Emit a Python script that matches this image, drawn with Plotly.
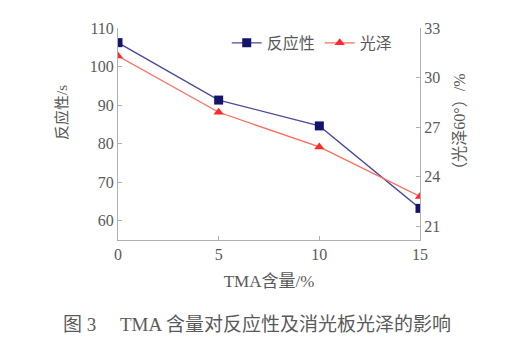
import plotly.graph_objects as go

tma = [0, 5, 10, 15]
reactivity = [106.2, 91.3, 84.6, 63.2]
gloss = [31.3, 27.9, 25.8, 22.8]
left_ticks = [60, 70, 80, 90, 100, 110]
right_ticks = [21, 24, 27, 30, 33]
x_ticks = [0, 5, 10, 15]

serif = "Liberation Serif, DejaVu Serif, serif"
cjk = "Liberation Serif, Noto Sans CJK SC, serif"
txt = "#5a5a5a"
axc = "#b0b0b0"

fig = go.Figure()
fig.add_trace(go.Scatter(
    x=tma, y=reactivity, name="反应性", mode="lines+markers",
    line=dict(color="#4a4a9c", width=1.3),
    marker=dict(symbol="square", size=9, color="#14146b"),
))
fig.add_trace(go.Scatter(
    x=tma, y=gloss, name="光泽", mode="lines+markers", yaxis="y2",
    line=dict(color="#ff6a5a", width=1.3),
    marker=dict(symbol="triangle-up", size=9, color="#ff2a2a"),
))

fig.update_layout(
    width=520, height=355,
    margin=dict(l=110, r=108, t=15, b=123),
    paper_bgcolor="white", plot_bgcolor="white",
    showlegend=True,
    legend=dict(x=0.36, y=1.01, xanchor="left", yanchor="top", orientation="h",
                font=dict(family=cjk, size=16, color=txt), bgcolor="rgba(0,0,0,0)",
                itemwidth=30),
    xaxis=dict(range=[0, 15], tickvals=x_ticks, showline=True, linecolor=axc,
               linewidth=1, ticks="inside", tickcolor=axc, ticklen=4, mirror=False,
               showgrid=False, zeroline=False,
               tickfont=dict(family=serif, size=16, color=txt),
               title=dict(text="TMA含量/%", font=dict(family=cjk, size=17, color=txt),
                          standoff=12)),
    yaxis=dict(range=[55, 110], tickvals=left_ticks, showline=True, linecolor=axc,
               linewidth=1, ticks="inside", tickcolor=axc, ticklen=4,
               showgrid=False, zeroline=False,
               tickfont=dict(family=serif, size=16, color=txt)),
    yaxis2=dict(range=[20.17, 33], tickvals=right_ticks, overlaying="y", side="right",
                showline=True, linecolor=axc, linewidth=1, ticks="inside",
                tickcolor=axc, ticklen=4, showgrid=False, zeroline=False,
                tickfont=dict(family=serif, size=16, color=txt)),
    annotations=[
        dict(text="反应性/s", xref="paper", yref="paper",
             x=-56 / 302, y=(240 - 110) / 217, xanchor="center", yanchor="middle",
             textangle=-90, showarrow=False,
             font=dict(family=cjk, size=15, color=txt)),
        dict(text="（光泽60°）/%", xref="paper", yref="paper",
             x=1 + 40 / 302, y=(240 - 123) / 217, xanchor="center", yanchor="middle",
             textangle=-90, showarrow=False,
             font=dict(family=cjk, size=16, color=txt)),
        dict(text="图 3　 TMA 含量对反应性及消光板光泽的影响",
             xref="paper", yref="paper", x=(257 - 118) / 302, y=-87 / 217,
             xanchor="center", yanchor="middle", showarrow=False,
             font=dict(family=cjk, size=19, color=txt)),
    ],
)

fig.write_html("out.html")
